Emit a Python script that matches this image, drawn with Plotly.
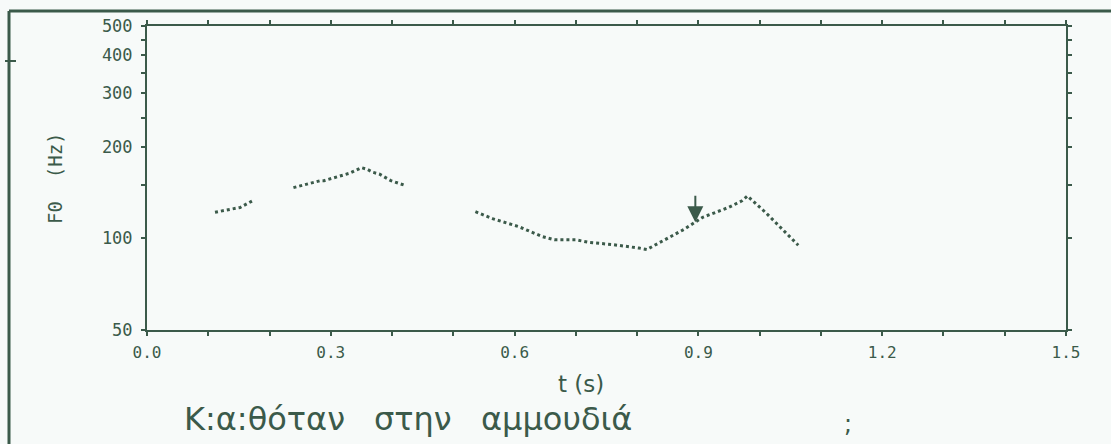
import plotly.graph_objects as go

# ---- data ----
seg1_t = [0.111, 0.152, 0.172]
seg1_f0 = [122, 126.5, 133]

seg2_t = [0.239, 0.270, 0.283, 0.289, 0.331, 0.350, 0.359, 0.369, 0.379, 0.398, 0.419]
seg2_f0 = [147, 152, 155, 155, 164, 171, 169, 165, 163, 155, 150]

seg3_t = [0.536, 0.565, 0.606, 0.645, 0.665, 0.700, 0.723, 0.760, 0.803, 0.816,
          0.836, 0.857, 0.876, 0.907, 0.950, 0.971, 0.980, 1.011, 1.042, 1.063]
seg3_f0 = [122.5, 116, 109.5, 101.5, 99, 99, 97, 95.5, 93, 92,
           96.8, 102, 107, 117.4, 126.7, 133, 138, 121, 104.5, 95]

x_ticks = [0.0, 0.1, 0.2, 0.3, 0.4, 0.5, 0.6, 0.7, 0.8, 0.9, 1.0, 1.1, 1.2, 1.3, 1.4, 1.5]
x_labels = ["0.0", "", "", "0.3", "", "", "0.6", "", "", "0.9", "", "", "1.2", "", "", "1.5"]
y_ticks = [50, 100, 150, 200, 250, 300, 350, 400, 450, 500]
y_labels = ["50", "100", "", "200", "", "300", "", "400", "", "500"]

arrow_t, arrow_f0 = 0.895, 113

INK = "#3b5a4a"
BG = "#f7faf9"

W, H = 1111, 444
L, R, T, B = 147, 45, 26, 114
PW, PH = W - L - R, H - T - B


def px(x):
    return (x - L) / PW


def py(y):
    return (H - B - y) / PH


fig = go.Figure()
for t, f in [(seg1_t, seg1_f0), (seg2_t, seg2_f0), (seg3_t, seg3_f0)]:
    fig.add_trace(go.Scatter(x=t, y=f, mode="lines",
                             line=dict(color=INK, width=3, dash="3px,3px"),
                             showlegend=False, hoverinfo="skip"))

axis_common = dict(showline=True, linecolor=INK, linewidth=2, mirror="allticks",
                   ticks="outside", ticklen=4, tickwidth=2, tickcolor=INK,
                   showgrid=False, zeroline=False)

fig.update_xaxes(range=[0, 1.5], tickmode="array", tickvals=x_ticks, ticktext=x_labels,
                 tickfont=dict(family="DejaVu Sans Mono", size=16, color=INK),
                 ticklabelstandoff=3, **axis_common)
fig.update_yaxes(type="log", range=[1.69897, 2.69897], tickmode="array",
                 tickvals=y_ticks, ticktext=y_labels,
                 tickfont=dict(family="DejaVu Sans Mono", size=17, color=INK),
                 ticklabelstandoff=5, **axis_common)


def note(x, y, text, size, family="DejaVu Sans", angle=0):
    return dict(x=px(x), y=py(y), xref="paper", yref="paper", text=text,
                textangle=angle, xanchor="center", yanchor="middle", showarrow=False,
                font=dict(family=family, size=size, color=INK))


annotations = [
    dict(x=arrow_t, y=2.053, xref="x", yref="y", ax=0, ay=-28, showarrow=True,
         arrowhead=2, arrowsize=1.6, arrowwidth=2, arrowcolor=INK, text=""),
    note(55, 178, "F0  (Hz)", 19, family="DejaVu Sans Mono", angle=-90),
    note(581, 384, "t (s)", 23),
    note(264, 419, "Κ:α:θόταν", 32),
    note(413, 419, "στην", 32),
    note(556, 419, "αμμουδιά", 32),
    note(848, 424, ";", 24),
]

shapes = [
    dict(type="line", xref="paper", yref="paper", x0=px(9), x1=px(9), y0=py(11), y1=py(470),
         line=dict(color=INK, width=3)),
    dict(type="line", xref="paper", yref="paper", x0=px(9), x1=px(1130), y0=py(11), y1=py(11),
         line=dict(color=INK, width=3)),
    dict(type="line", xref="paper", yref="paper", x0=px(5), x1=px(16), y0=py(61), y1=py(61),
         line=dict(color=INK, width=2)),
]

fig.update_layout(width=W, height=H, margin=dict(l=L, r=R, t=T, b=B),
                  paper_bgcolor=BG, plot_bgcolor=BG,
                  annotations=annotations, shapes=shapes, showlegend=False)

fig.write_html("out.html")
